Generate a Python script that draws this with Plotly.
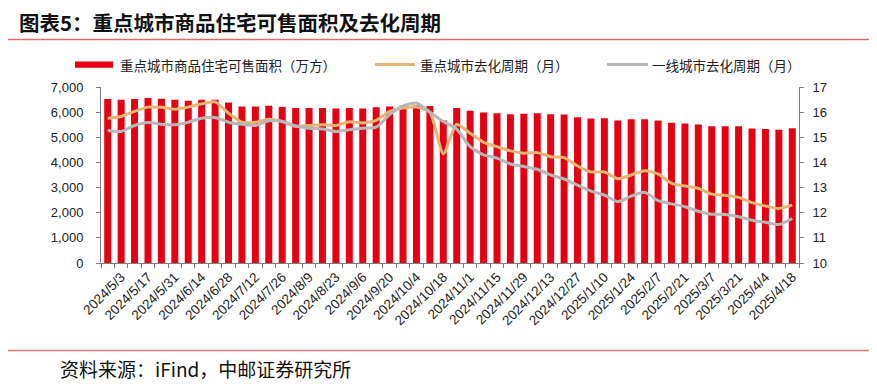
import plotly.graph_objects as go

categories = [
    "2024/4/26", "2024/5/3", "2024/5/10", "2024/5/17", "2024/5/24", "2024/5/31",
    "2024/6/7", "2024/6/14", "2024/6/21", "2024/6/28", "2024/7/5", "2024/7/12",
    "2024/7/19", "2024/7/26", "2024/8/2", "2024/8/9", "2024/8/16", "2024/8/23",
    "2024/8/30", "2024/9/6", "2024/9/13", "2024/9/20", "2024/9/27", "2024/10/4",
    "2024/10/11", "2024/10/18", "2024/10/25", "2024/11/1", "2024/11/8", "2024/11/15",
    "2024/11/22", "2024/11/29", "2024/12/6", "2024/12/13", "2024/12/20", "2024/12/27",
    "2025/1/3", "2025/1/10", "2025/1/17", "2025/1/24", "2025/1/31", "2025/2/7",
    "2025/2/14", "2025/2/21", "2025/2/28", "2025/3/7", "2025/3/14", "2025/3/21",
    "2025/3/28", "2025/4/4", "2025/4/11", "2025/4/18",
]

tick_labels = [
    "2024/5/3", "2024/5/17", "2024/5/31", "2024/6/14", "2024/6/28", "2024/7/12",
    "2024/7/26", "2024/8/9", "2024/8/23", "2024/9/6", "2024/9/20", "2024/10/4",
    "2024/10/18", "2024/11/1", "2024/11/15", "2024/11/29", "2024/12/13", "2024/12/27",
    "2025/1/10", "2025/1/24", "2025/2/7", "2025/2/21", "2025/3/7", "2025/3/21",
    "2025/4/4", "2025/4/18",
]

# 重点城市商品住宅可售面积（万方）
available_area = [
    6520, 6490, 6520, 6560, 6530, 6490, 6450, 6490, 6490, 6385,
    6225, 6225, 6250, 6200, 6160, 6160, 6160, 6140, 6160, 6140,
    6190, 6225, 6250, 6260, 6240,
    5670, 6160, 6055, 5990, 5960, 5920, 5935, 5960, 5920, 5910,
    5800, 5750, 5760, 5670, 5720, 5720, 5670, 5575, 5550, 5510,
    5440, 5440, 5440, 5350, 5330, 5300, 5360,
]

# 重点城市去化周期（月）
key_city_cycle = [
    15.76, 15.83, 16.03, 16.20, 16.19, 16.12, 16.20, 16.33, 16.41, 15.96,
    15.60, 15.60, 15.72, 15.63, 15.43, 15.47, 15.50, 15.47, 15.62, 15.57,
    15.67, 16.03, 16.16, 16.20, 16.00,
    14.34, 15.52, 15.16, 14.80, 14.63, 14.46, 14.37, 14.39, 14.23, 14.19,
    13.86, 13.62, 13.62, 13.35, 13.50, 13.67, 13.54, 13.17, 13.06, 12.97,
    12.74, 12.69, 12.61, 12.40, 12.27, 12.17, 12.30,
]

# 一线城市去化周期（月）
tier1_cycle = [
    15.27, 15.23, 15.47, 15.59, 15.52, 15.50, 15.60, 15.76, 15.79, 15.60,
    15.52, 15.47, 15.66, 15.63, 15.46, 15.36, 15.33, 15.23, 15.30, 15.36,
    15.40, 15.90, 16.25, 16.36, 16.00,
    15.63, 15.32, 14.63, 14.30, 14.17, 13.94, 13.84, 13.73, 13.50, 13.34,
    13.10, 12.86, 12.70, 12.44, 12.66, 12.81, 12.48, 12.35, 12.24, 12.06,
    11.94, 11.93, 11.84, 11.70, 11.62, 11.53, 11.77,
]

series_names = ["重点城市商品住宅可售面积（万方）", "重点城市去化周期（月）", "一线城市去化周期（月）"]
title_text = "图表5：重点城市商品住宅可售面积及去化周期"
source_text = "资料来源：iFind，中邮证券研究所"

# the page body has an 8px default margin; lay out in window pixels and shift
OFF = 8
W, H = 877 - OFF, 384 - OFF
PLOT_LEFT, PLOT_RIGHT, PLOT_TOP, PLOT_BOTTOM = 101, 799, 87.3, 262.7
L = PLOT_LEFT - OFF
T = PLOT_TOP - OFF
R = W - (PLOT_RIGHT - OFF)
B = H - (PLOT_BOTTOM - OFF)
PW, PH = W - L - R, H - T - B

RED = "#E60012"
ORANGE = "#E5B574"
GRAY = "#B7B7B7"
AXIS = "#808080"
CJK = "Noto Sans CJK SC"
LAT = "Liberation Sans"


def px(x):
    return (x - PLOT_LEFT) / PW


def py(y):
    return (PLOT_BOTTOM - y) / PH


fig = go.Figure()
fig.add_trace(go.Bar(x=categories, y=available_area, name=series_names[0],
                     marker=dict(color=RED, line=dict(width=0)), width=0.52, yaxis="y"))
fig.add_trace(go.Scatter(x=categories, y=key_city_cycle, name=series_names[1], mode="lines",
                         line=dict(color=ORANGE, width=3, shape="spline", smoothing=0.6), yaxis="y2"))
fig.add_trace(go.Scatter(x=categories, y=tier1_cycle, name=series_names[2], mode="lines",
                         line=dict(color=GRAY, width=3, shape="spline", smoothing=0.6), yaxis="y2"))

ticktext = [c if c in tick_labels else "" for c in categories]

shapes = [
    dict(type="line", xref="paper", yref="paper", x0=px(3), x1=px(874), y0=py(6), y1=py(6),
         line=dict(color="#C0141C", width=2.5)),
    dict(type="line", xref="paper", yref="paper", x0=px(5), x1=px(874), y0=py(40), y1=py(40),
         line=dict(color="#E06C6C", width=1.5)),
    dict(type="line", xref="paper", yref="paper", x0=px(5), x1=px(874), y0=py(350), y1=py(350),
         line=dict(color="#E57373", width=1.5)),
    # legend swatches
    dict(type="rect", xref="paper", yref="paper", x0=px(75), x1=px(113), y0=py(68), y1=py(62),
         fillcolor=RED, line=dict(width=0)),
    dict(type="line", xref="paper", yref="paper", x0=px(375), x1=px(415), y0=py(65), y1=py(65),
         line=dict(color=ORANGE, width=3)),
    dict(type="line", xref="paper", yref="paper", x0=px(607), x1=px(648), y0=py(65), y1=py(65),
         line=dict(color=GRAY, width=3)),
]

annotations = [
    dict(text="<b>" + title_text + "</b>", x=px(17), y=py(23), xref="paper", yref="paper",
         xanchor="left", yanchor="middle", showarrow=False,
         font=dict(family=CJK, size=20.5, color="#111111")),
    dict(text=source_text, x=px(58), y=py(368), xref="paper", yref="paper",
         xanchor="left", yanchor="middle", showarrow=False,
         font=dict(family=CJK, size=19, color="#111111")),
    dict(text=series_names[0], x=px(118), y=py(65), xref="paper", yref="paper",
         xanchor="left", yanchor="middle", showarrow=False,
         font=dict(family=CJK, size=13.5, color="#222222")),
    dict(text=series_names[1], x=px(418), y=py(65), xref="paper", yref="paper",
         xanchor="left", yanchor="middle", showarrow=False,
         font=dict(family=CJK, size=13.5, color="#222222")),
    dict(text=series_names[2], x=px(650), y=py(65), xref="paper", yref="paper",
         xanchor="left", yanchor="middle", showarrow=False,
         font=dict(family=CJK, size=13.5, color="#222222")),
]

fig.update_layout(
    width=W, height=H,
    margin=dict(l=L, r=R, t=T, b=B, pad=0),
    paper_bgcolor="white", plot_bgcolor="white",
    showlegend=False,
    bargap=0.48,
    font=dict(family=LAT, size=12, color="#222222"),
    xaxis=dict(type="category", tickmode="array", tickvals=categories, ticktext=ticktext,
               tickson="boundaries", ticks="outside", ticklen=4, tickcolor=AXIS,
               showline=True, linecolor=AXIS, linewidth=1, tickangle=-45,
               tickfont=dict(family=LAT, size=13.5, color="#222222"),
               showgrid=False, zeroline=False, range=[-0.5, len(categories) - 0.5]),
    yaxis=dict(range=[0, 7000], dtick=1000, tickformat=",", ticks="outside", ticklen=4,
               tickcolor=AXIS, showline=True, linecolor=AXIS, linewidth=1,
               showgrid=False, zeroline=False, ticklabelstandoff=10,
               tickfont=dict(family=LAT, size=13, color="#222222")),
    yaxis2=dict(range=[10, 17], dtick=1, overlaying="y", side="right", ticks="outside",
                ticklen=4, tickcolor=AXIS, showline=True, linecolor=AXIS, linewidth=1,
                showgrid=False, zeroline=False, ticklabelstandoff=6,
                tickfont=dict(family=LAT, size=13, color="#222222")),
    shapes=shapes,
    annotations=annotations,
)

fig.write_html("out.html")
